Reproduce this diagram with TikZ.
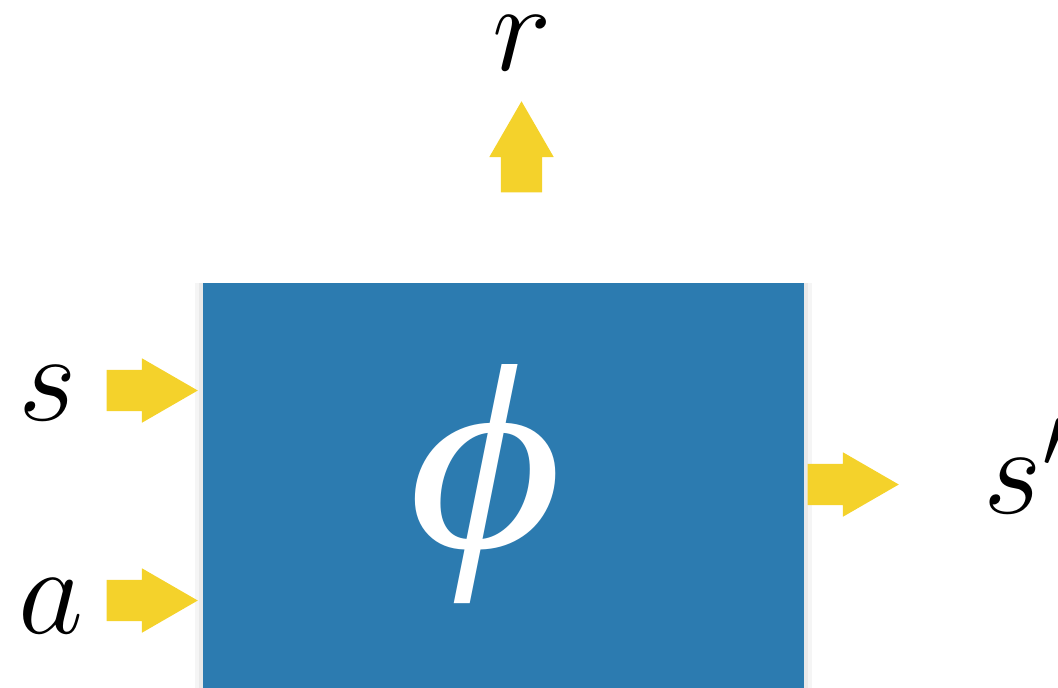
\documentclass[tikz,border=0pt]{standalone}
\usepackage{fix-cm}
\usepackage{fontspec}
\newfontfamily\greekserif{Liberation Serif}
\usetikzlibrary{shapes.arrows}
\definecolor{boxblue}{HTML}{2C7BB0}
\definecolor{arryellow}{HTML}{F4D22B}

\begin{document}
\begin{tikzpicture}[
    x=0.01cm, y=-0.01cm,
    fatarrow/.style={single arrow, fill=arryellow, draw=none, anchor=tail,
                     inner xsep=0pt, inner ysep=0.2cm,
                     minimum height=0.91cm,
                     single arrow head extend=0.115cm, single arrow tip angle=60},
    sym/.style={inner sep=0pt, font=\fontsize{36}{40}\selectfont},
    halo/.style={fill=black, inner sep=0pt, minimum height=5cm},
  ]
  \useasboundingbox (0,0) rectangle (1058,687);
  \clip (0,0) rectangle (1058,687);

  % ---- the block, with a soft edge shadow ----
  \node[halo, fill opacity=0.04, minimum width=6.17cm] at (503.5,533) {};
  \node[halo, fill opacity=0.05, minimum width=6.09cm] at (503.5,533) {};
  \node[fill=boxblue, inner sep=0pt, minimum width=6.01cm, minimum height=5cm]
    (blk) at (503.5,533) {};
  \node[inner sep=0pt, text=white, font=\greekserif\itshape\fontsize{75}{80}\selectfont]
    (phi) at (486,484) {\scalebox{1.13}[1]{\symbol{"03D5}}};

  % ---- inputs ----
  \node[sym, anchor=base] (s) at (48,420) {$s$};
  \node[sym, anchor=base] (a) at (51,633) {$a$};
  \node[fatarrow] (sin) at (106,390.5) {};
  \node[fatarrow] (ain) at (106,600.5) {};

  % ---- outputs ----
  \node[fatarrow] (sout) at (807,484.5) {};
  \node[sym, anchor=base west] (snext) at (983,513) {$s'$};
  \node[fatarrow, rotate=90] (rout) at (521.5,193) {};
  \node[sym, anchor=base] (r) at (522,70) {$r$};
\end{tikzpicture}
\end{document}
